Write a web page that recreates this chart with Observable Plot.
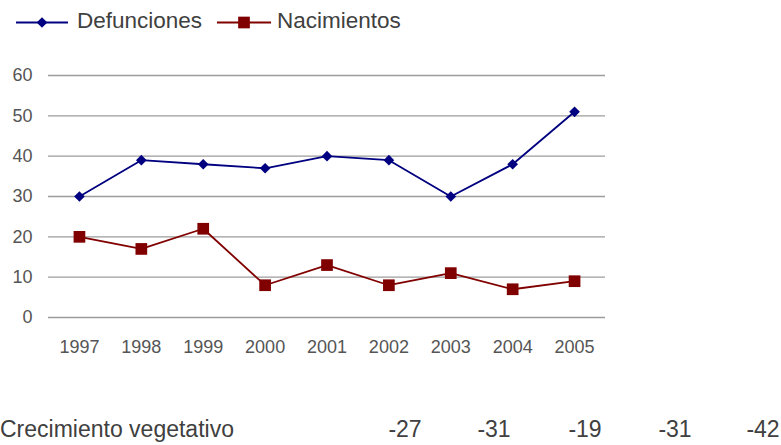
<!DOCTYPE html>
<html>
<head>
<meta charset="utf-8">
<script src="https://cdn.jsdelivr.net/npm/d3@7"></script>
<script src="https://cdn.jsdelivr.net/npm/@observablehq/plot@0.6"></script>
<style>
  html, body { margin: 0; padding: 0; background: #fff; }
  body { width: 781px; height: 445px; position: relative; overflow: hidden;
         font-family: "Liberation Sans", Arial, sans-serif; color: #404040; }
  #legend { position: absolute; left: 0; top: 0; width: 781px; height: 40px; }
  #legend svg { position: absolute; left: 0; top: 0; }
  .leg-text { position: absolute; top: 9.5px; font-size: 22.5px; line-height: 22.5px; white-space: nowrap; }
  #chart { position: absolute; left: 0; top: 40px; }
  #growth { position: absolute; left: 0; top: 418px; width: 781px; height: 27px;
            font-size: 23px; line-height: 23px; white-space: nowrap; }
  #growth span { position: absolute; top: 0; }
</style>
</head>
<body>
<div id="legend"></div>
<div id="chart"></div>
<div id="growth"></div>
<script>
// Deaths and births per year
const years = ["1997", "1998", "1999", "2000", "2001", "2002", "2003", "2004", "2005"];
const defunciones = [30, 39, 38, 37, 40, 39, 30, 38, 51];
const nacimientos = [20, 17, 22, 8, 13, 8, 11, 7, 9];
const yTicks = [0, 10, 20, 30, 40, 50, 60];

// Natural growth row shown under the chart
const growthLabel = "Crecimiento vegetativo";
const growthYears = ["2001", "2002", "2003", "2004", "2005"];

const series = [
  {name: "Defunciones", values: defunciones, color: "#000080", symbol: "diamond2", r: 4.8},
  {name: "Nacimientos", values: nacimientos, color: "#800000", symbol: "square", r: 6.6}
];

const rows = series.flatMap(s => years.map((year, i) => ({series: s.name, year, value: s.values[i]})));

const chart = Plot.plot({
  width: 781,
  height: 360,
  marginLeft: 48,
  marginRight: 176,
  marginTop: 35,
  marginBottom: 83,
  style: {fontFamily: "'Liberation Sans', Arial, sans-serif", fontSize: "18px", color: "#555", background: "transparent"},
  x: {type: "point", domain: years, padding: 0.5, round: false, label: null},
  y: {domain: [0, 60], label: null},
  marks: [
    Plot.ruleY(yTicks, {stroke: "#9c9c9c", strokeWidth: 1.4}),
    Plot.axisY({ticks: yTicks, tickSize: 0, tickPadding: 16, label: null, fontSize: 18}),
    Plot.axisX({tickSize: 0, tickPadding: 23, label: null, fontSize: 18}),
    ...series.flatMap(s => [
      Plot.line(rows.filter(d => d.series === s.name), {x: "year", y: "value", stroke: s.color, strokeWidth: 1.8}),
      Plot.dot(rows.filter(d => d.series === s.name), {x: "year", y: "value", fill: s.color, stroke: "none", symbol: s.symbol, r: s.r})
    ])
  ]
});
document.getElementById("chart").append(chart);

// Legend: line with symbol, followed by series name
const legend = document.getElementById("legend");
const legendSvg = d3.create("svg").attr("width", 781).attr("height", 40);
const legendItems = [
  {s: series[0], x1: 16, x2: 68, textX: 77},
  {s: series[1], x1: 217, x2: 271, textX: 277}
];
for (const item of legendItems) {
  const cy = 22.5;
  legendSvg.append("line")
    .attr("x1", item.x1).attr("x2", item.x2).attr("y1", cy).attr("y2", cy)
    .attr("stroke", item.s.color).attr("stroke-width", 2);
  const sym = item.s.symbol === "square" ? d3.symbolSquare : d3.symbolDiamond2;
  const size = Math.PI * item.s.r * item.s.r;
  legendSvg.append("path")
    .attr("d", d3.symbol(sym, size)())
    .attr("transform", `translate(${(item.x1 + item.x2) / 2},${cy})`)
    .attr("fill", item.s.color);
  const t = document.createElement("div");
  t.className = "leg-text";
  t.style.left = item.textX + "px";
  t.textContent = item.s.name;
  legend.append(t);
}
legend.prepend(legendSvg.node());

// Growth row: births minus deaths for the later years
const growth = document.getElementById("growth");
const lab = document.createElement("span");
lab.style.left = "0px";
lab.textContent = growthLabel;
growth.append(lab);
const centers = [405, 494, 585, 675, 763];
growthYears.forEach((year, i) => {
  const k = years.indexOf(year);
  const v = nacimientos[k] - defunciones[k];
  const sp = document.createElement("span");
  sp.textContent = String(v);
  sp.style.left = centers[i] + "px";
  sp.style.transform = "translateX(-50%)";
  growth.append(sp);
});
</script>
</body>
</html>
